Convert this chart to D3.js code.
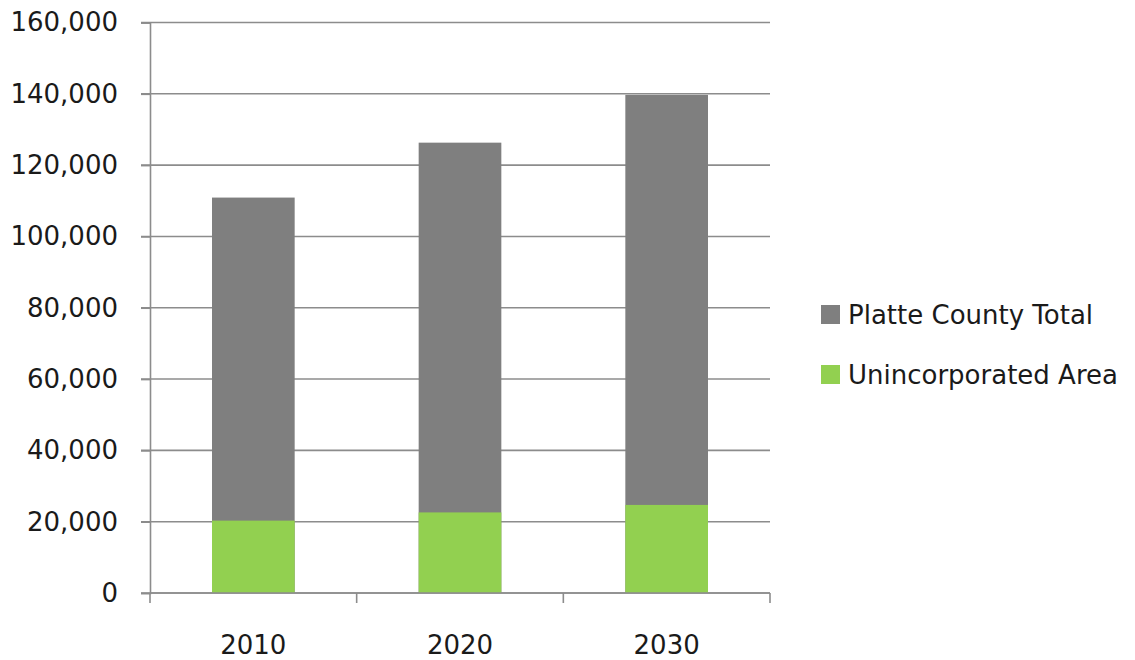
<!DOCTYPE html>
<html>
<head>
<meta charset="utf-8">
<script src="https://cdn.jsdelivr.net/npm/d3@7"></script>
<style>
  html, body { margin: 0; padding: 0; background: #fff; }
  svg { display: block; }
  text { font-family: "DejaVu Sans", Verdana, sans-serif; fill: #1a1a1a; }
</style>
</head>
<body>
<svg id="chart" width="1135" height="660"></svg>
<script>
// Population by year
const years = ["2010", "2020", "2030"];
const countyTotal = [110900, 126300, 139700];
const unincorporated = [20300, 22600, 24700];
const seriesNames = ["Platte County Total", "Unincorporated Area"];
const seriesColors = ["#7f7f7f", "#92d050"];
const yTicks = [0, 20000, 40000, 60000, 80000, 100000, 120000, 140000, 160000];

const svg = d3.select("#chart");
const plot = { left: 150, right: 770, top: 22.5, bottom: 593 };
const fontSize = 26;

const x = d3.scaleBand().domain(years).range([plot.left, plot.right]).paddingInner(0.6).paddingOuter(0.3);
const y = d3.scaleLinear().domain([0, 160000]).range([plot.bottom, plot.top]);
const fmt = d3.format(",");

// horizontal gridlines
svg.append("g").selectAll("line").data(yTicks).join("line")
  .attr("x1", plot.left - 9).attr("x2", plot.right)
  .attr("y1", d => y(d)).attr("y2", d => y(d))
  .attr("stroke", "#8c8c8c").attr("stroke-width", 1.6);

// overlapped bars: county total behind, unincorporated area in front
const bars = svg.append("g");
bars.selectAll("rect.total").data(years).join("rect")
  .attr("class", "total")
  .attr("x", d => x(d)).attr("width", x.bandwidth())
  .attr("y", (d, i) => y(countyTotal[i]))
  .attr("height", (d, i) => y(0) - y(countyTotal[i]))
  .attr("fill", seriesColors[0]);
bars.selectAll("rect.uninc").data(years).join("rect")
  .attr("class", "uninc")
  .attr("x", d => x(d)).attr("width", x.bandwidth())
  .attr("y", (d, i) => y(unincorporated[i]))
  .attr("height", (d, i) => y(0) - y(unincorporated[i]))
  .attr("fill", seriesColors[1]);

// y axis
const yAxis = d3.axisLeft(y).tickValues(yTicks).tickFormat(fmt).tickSize(9).tickPadding(23);
const gy = svg.append("g").attr("transform", `translate(${plot.left},0)`).call(yAxis);
gy.select(".domain").attr("stroke", "#8c8c8c").attr("stroke-width", 1.6);
gy.selectAll(".tick line").attr("stroke", "#8c8c8c").attr("stroke-width", 1.6);
gy.selectAll(".tick text").attr("font-size", fontSize).attr("fill", "#1a1a1a")
  .style("font-family", "'DejaVu Sans', Verdana, sans-serif");

// x axis with tick marks at category boundaries
const step = (plot.right - plot.left) / years.length;
const edges = d3.range(years.length + 1).map(i => plot.left + i * step);
const gx = svg.append("g");
gx.append("line").attr("x1", plot.left).attr("x2", plot.right)
  .attr("y1", plot.bottom).attr("y2", plot.bottom)
  .attr("stroke", "#8c8c8c").attr("stroke-width", 1.6);
gx.selectAll("line.tick").data(edges).join("line").attr("class", "tick")
  .attr("x1", d => d).attr("x2", d => d)
  .attr("y1", plot.bottom).attr("y2", plot.bottom + 10)
  .attr("stroke", "#8c8c8c").attr("stroke-width", 1.6);
gx.selectAll("text").data(years).join("text")
  .attr("x", d => x(d) + x.bandwidth() / 2)
  .attr("y", 654)
  .attr("text-anchor", "middle")
  .attr("font-size", fontSize)
  .text(d => d);

// legend
const legend = svg.append("g");
seriesNames.forEach((name, i) => {
  const ly = 315 + i * 60;
  legend.append("rect").attr("x", 821).attr("y", ly - 10).attr("width", 19).attr("height", 19)
    .attr("fill", seriesColors[i]);
  legend.append("text").attr("x", 848).attr("y", ly + 9).attr("font-size", fontSize).text(name);
});
</script>
</body>
</html>
